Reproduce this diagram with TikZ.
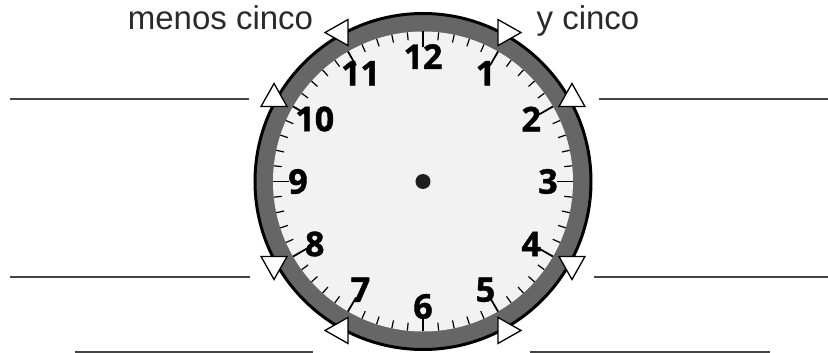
\documentclass[tikz,border=0pt]{standalone}
\usepackage{fontspec}
\setmainfont{Liberation Sans}
\newfontfamily\digitfont[BoldFeatures={FakeBold=1.2}]{Open Sans}
\definecolor{ringgray}{HTML}{666666}
\definecolor{facegray}{HTML}{F2F2F2}
\definecolor{inkgray}{HTML}{2A2A2A}
\definecolor{linegray}{HTML}{444444}
\tikzset{
  rim/.style={draw=black,line width=3pt,fill=ringgray},          % dark band
  face/.style={fill=facegray},                                    % dial
  mintick/.style={black,line width=1.2pt},
  hourtick/.style={black,line width=1.7pt},
  numeral/.style={font=\digitfont\bfseries\fontsize{34}{34}\selectfont,inner sep=0pt},
  pointer/.style={draw=black,fill=white,line width=1.3pt,line join=miter},
  blank/.style={draw=linegray,line width=1.5pt},
  caption/.style={font=\fontsize{33}{38}\selectfont,text=inkgray,inner sep=0pt},
}
\newcommand{\clockarrow}[2]{%
  \draw[pointer,shift={(#1:172)},rotate=#2] (12,0) -- (-11,13) -- (-11,-13) -- cycle;
}

\begin{document}
\begin{tikzpicture}[x=1pt,y=1pt]
  \useasboundingbox (-423,-171.5) rectangle (405,181.5);
  % dial
  \draw[rim] (0,0) circle (168);
  \fill[face] (0,0) circle (150);
  \foreach \m in {0,...,59}
    \draw[mintick] (6*\m:142) -- (6*\m:150);
  \foreach \h in {1,...,12}
    \draw[hourtick] (90-30*\h:134) -- (90-30*\h:150);
  \foreach \h in {1,...,12}
    \node[numeral] (n\h) at ({90-30*\h}:125) {\h};
  \node[circle,fill=black!88,minimum size=15pt,inner sep=0pt] (hub) at (0,0) {};
  % pointers
  \clockarrow{60}{0}
  \clockarrow{30}{90}
  \clockarrow{-30}{-90}
  \clockarrow{-60}{0}
  \clockarrow{-120}{180}
  \clockarrow{-150}{-90}
  \clockarrow{150}{90}
  \clockarrow{120}{180}
  % labels
  \node[caption,anchor=base] (menos) at (-202.5,151.5) {menos cinco};
  \node[caption,anchor=base] (ycinco) at (165,151.5) {y cinco};
  % answer lines
  \draw[blank] (-413,82.5) -- (-174,82.5);
  \draw[blank] (176,82.5) -- (405,82.5);
  \draw[blank] (-413,-95.5) -- (-173,-95.5);
  \draw[blank] (171,-95.5) -- (405,-95.5);
  \draw[blank] (-348,-170.5) -- (-110,-170.5);
  \draw[blank] (107,-170.5) -- (347,-170.5);
\end{tikzpicture}
\end{document}
